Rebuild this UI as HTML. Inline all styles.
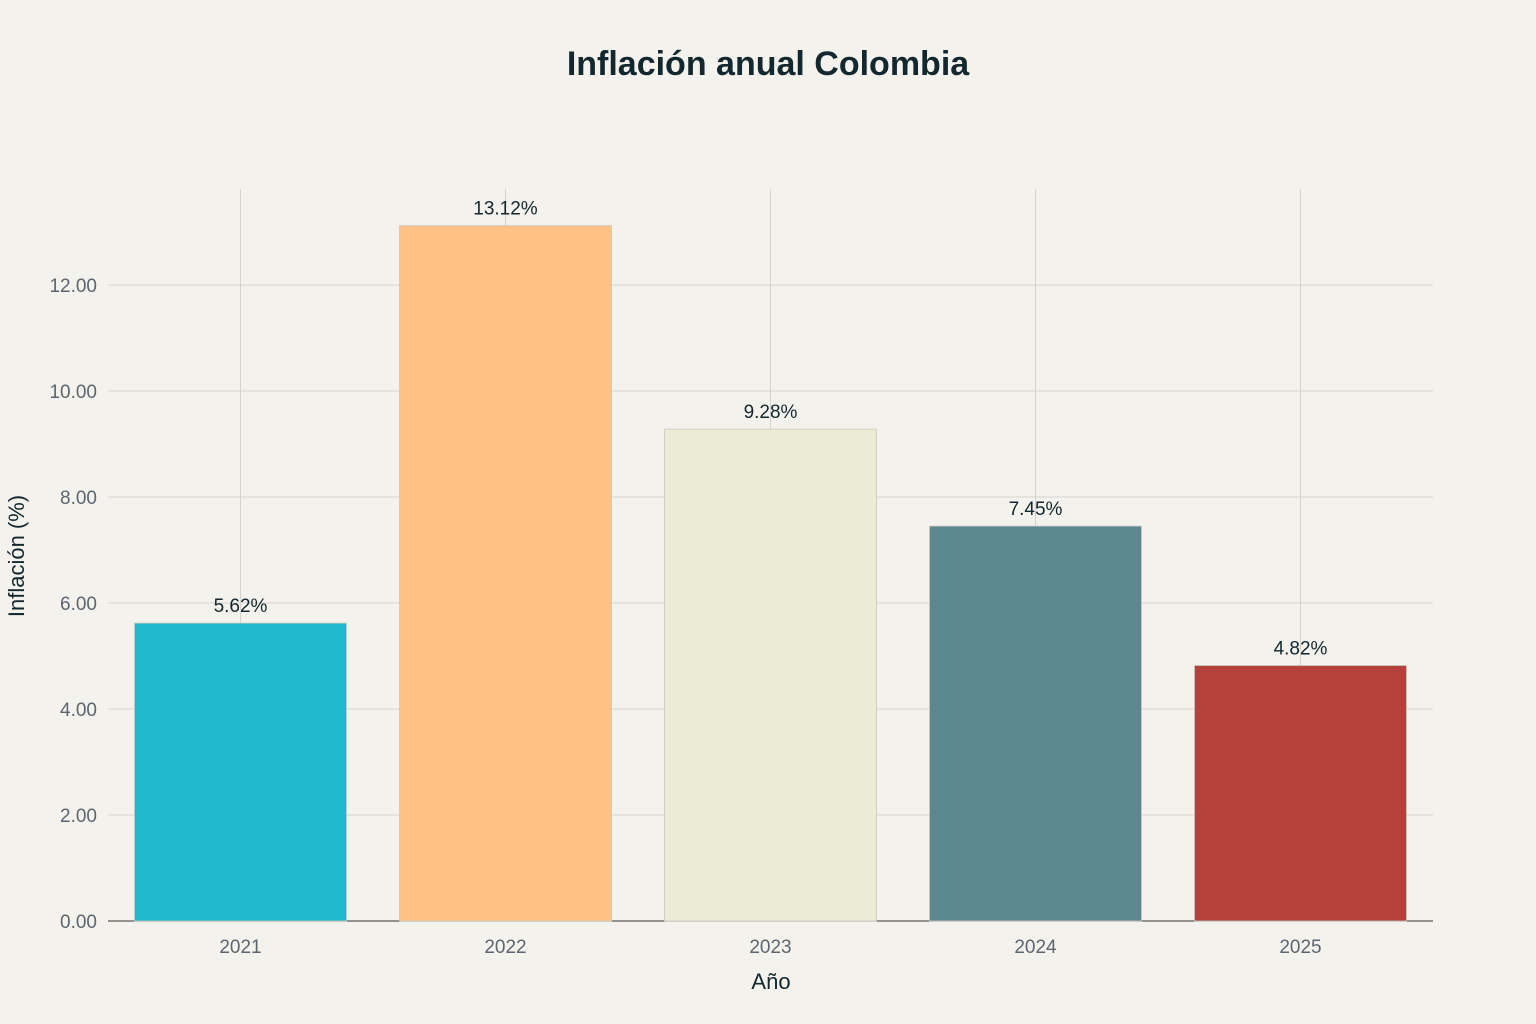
<!DOCTYPE html>
<html><head><meta charset="utf-8"><style>
body{margin:0;background:#F3F2EC;}
svg{display:block;font-family:"Liberation Sans",sans-serif;}
</style></head><body>
<svg id="chart" width="1536" height="1024" xmlns="http://www.w3.org/2000/svg">
<rect width="1536" height="1024" fill="#F3F2EC"/>
<text x="768" y="75" text-anchor="middle" font-size="34" font-weight="bold" fill="#13272F">Inflación anual Colombia</text>
<g id="grid"></g><g id="bars"></g><g id="labels"></g>
<text x="771" y="989" text-anchor="middle" font-size="22" fill="#13272F">Año</text>
<text transform="translate(24,556) rotate(-90)" text-anchor="middle" font-size="22" fill="#13272F">Inflación (%)</text>
</svg>
<script>
const categories=["2021","2022","2023","2024","2025"];
const values=[5.62,13.12,9.28,7.45,4.82];
const colors=["#1FB8CD","#FFC185","#ECEBD5","#5D878F","#B4413C"];
const yTicks=[0,2,4,6,8,10,12];
const NS="http://www.w3.org/2000/svg";
const plotLeft=108,plotRight=1433,plotTop=189,plotBottom=921,yMax=13.81;
const band=(plotRight-plotLeft)/categories.length;
const xPos=i=>plotLeft+band*(i+0.5);
const yPos=v=>plotBottom-(v/yMax)*(plotBottom-plotTop);
function mk(t,a,p){const e=document.createElementNS(NS,t);for(const k in a)e.setAttribute(k,a[k]);p.appendChild(e);return e;}
const gGrid=document.getElementById('grid'),gBars=document.getElementById('bars'),gLabels=document.getElementById('labels');
yTicks.forEach(v=>{
 if(v>0){const ln=mk('line',{x1:plotLeft,x2:plotRight,y1:yPos(v),y2:yPos(v),stroke:'#D4D4CE','stroke-width':1},gGrid);
 
 }
 const t=mk('text',{x:97,y:yPos(v)+7,'text-anchor':'end','font-size':19,fill:'#5C6670'},gGrid);
 t.textContent=v.toFixed(2);
 
 
});
categories.forEach((c,i)=>{
 const ln=mk('line',{x1:xPos(i),x2:xPos(i),y1:plotTop,y2:plotBottom,stroke:'#D4D4CE','stroke-width':1},gGrid);
 
 
 const t=mk('text',{x:xPos(i),y:953,'text-anchor':'middle','font-size':19,fill:'#5C6670'},gGrid);
 t.textContent=c;
 
 
});
const bw=band*0.8;
values.forEach((v,i)=>{
 const r=mk('rect',{x:xPos(i)-bw/2,y:yPos(v),width:bw,height:plotBottom-yPos(v),fill:colors[i],stroke:'#C9C9BE','stroke-width':0.8},gBars);
 
 
 const t=mk('text',{x:xPos(i),y:yPos(v)-11,'text-anchor':'middle','font-size':19,fill:'#13272F'},gLabels);
 t.textContent=v.toFixed(2)+'%';
 
 
});
const ax=mk('line',{x1:plotLeft,x2:plotRight,y1:plotBottom,y2:plotBottom,stroke:'#333','stroke-width':1},gGrid);


</script>
</body></html>
